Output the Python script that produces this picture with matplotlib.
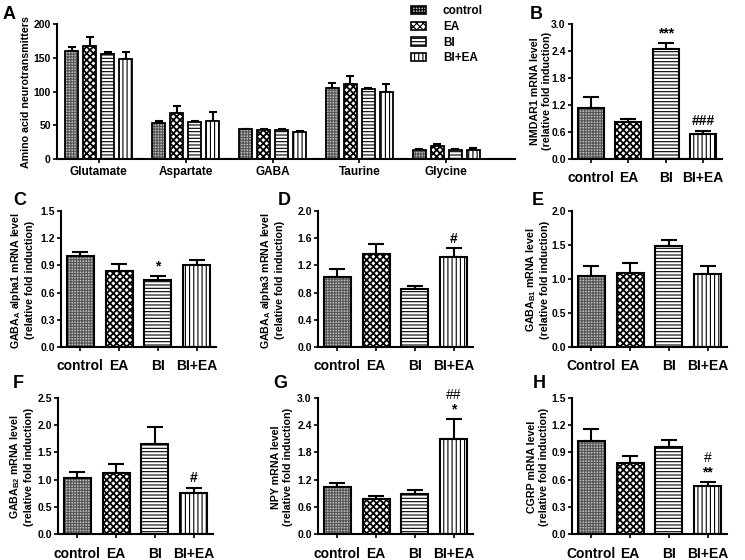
import matplotlib
matplotlib.use("Agg")
import matplotlib.pyplot as plt
from matplotlib.patches import Patch
import numpy as np

plt.rcParams['font.family'] = ['Liberation Sans', 'DejaVu Sans']
plt.rcParams['font.weight'] = 'bold'
plt.rcParams['axes.labelweight'] = 'bold'
plt.rcParams['mathtext.fontset'] = 'custom'
plt.rcParams['mathtext.rm'] = 'Liberation Sans:bold'
plt.rcParams['mathtext.bf'] = 'Liberation Sans:bold'
plt.rcParams['mathtext.it'] = 'Liberation Sans:bold:italic'
plt.rcParams['mathtext.default'] = 'rm'
plt.rcParams['hatch.linewidth'] = 0.8

# ---------------- data ----------------
groups = ['control', 'EA', 'BI', 'BI+EA']
groups_cap = ['Control', 'EA', 'BI', 'BI+EA']

a_cats = ['Glutamate', 'Aspartate', 'GABA', 'Taurine', 'Glycine']
a_control = [160, 53, 44, 105, 13]
a_ea = [167, 68, 43, 111, 19]
a_bi = [155, 55, 43, 104, 14]
a_biea = [148, 57, 40.5, 99, 14]
a_control_top = [166, 57, 45, 112, 15.5]
a_ea_top = [180, 78, 44, 123, 22]
a_bi_top = [158, 57, 44.5, 105, 15]
a_biea_top = [158, 69, 42, 111, 16]

b_vals = [1.14, 0.82, 2.44, 0.55]
b_tops = [1.38, 0.88, 2.58, 0.63]
c_vals = [1.00, 0.84, 0.74, 0.90]
c_tops = [1.05, 0.92, 0.78, 0.96]
d_vals = [1.03, 1.37, 0.86, 1.32]
d_tops = [1.14, 1.51, 0.90, 1.45]
e_vals = [1.05, 1.09, 1.49, 1.07]
e_tops = [1.19, 1.23, 1.58, 1.19]
f_vals = [1.03, 1.12, 1.66, 0.75]
f_tops = [1.14, 1.28, 1.96, 0.85]
g_vals = [1.03, 0.78, 0.89, 2.10]
g_tops = [1.13, 0.84, 0.96, 2.54]
h_vals = [1.03, 0.78, 0.96, 0.53]
h_tops = [1.16, 0.86, 1.04, 0.57]

b_sig = ['', '', '***', '###']
c_sig = ['', '', '*', '']
d_sig = ['', '', '', '#']
f_sig = ['', '', '', '#']
g_sig = ['', '', '', '*']
g_sig2 = ['', '', '', '##']
h_sig = ['', '', '', '**']
h_sig2 = ['', '', '', '#']

# ---------------- styles ----------------
styles = [
    dict(face='#bdbdbd', hatch='++++++', hc='#555555', hlw=0.8),
    dict(face='white', hatch='xxxxx', hc='black', hlw=1.3),
    dict(face='white', hatch='-----', hc='black', hlw=0.8),
    dict(face='white', hatch='||||', hc='black', hlw=0.8),
]

W, H = 745, 560
fig = plt.figure(figsize=(W / 100, H / 100), dpi=100)


def add_ax(l, t, r, b):
    return fig.add_axes([l / W, 1 - b / H, (r - l) / W, (b - t) / H])


def style_ax(ax):
    for s in ['top', 'right']:
        ax.spines[s].set_visible(False)
    for s in ['left', 'bottom']:
        ax.spines[s].set_linewidth(1.5)
    ax.tick_params(axis='y', direction='out', length=3, width=1.2, labelsize=7.5, pad=1.5)
    ax.tick_params(axis='x', direction='out', length=3, width=1.2, labelsize=10, pad=6)


def set_hlw(patches, lw):
    for p in patches:
        if hasattr(p, 'set_hatch_linewidth'):
            p.set_hatch_linewidth(lw)


def draw_bar(ax, x, v, top, st, width, capsize, lw=1.5):
    bc = ax.bar(x, v, width, color=st['face'], edgecolor=st['hc'], hatch=st['hatch'], linewidth=0, zorder=2)
    set_hlw(bc.patches, st['hlw'])
    ax.bar(x, v, width, fill=False, edgecolor='black', linewidth=lw, zorder=3)
    ax.errorbar([x], [v], yerr=[[0], [top - v]], fmt='none', ecolor='black',
                elinewidth=1.5, capsize=capsize, capthick=1.5, zorder=1)


def px2fig(x, y):
    return x / W, 1 - y / H


def panel_letter(letter, x, y):
    fx, fy = px2fig(x, y)
    fig.text(fx, fy, letter, fontsize=13, fontweight='bold', ha='left', va='top')


def ylabel(text, x, y):
    fx, fy = px2fig(x, y)
    fig.text(fx, fy, text, fontsize=7.7, fontweight='bold', rotation=90,
             ha='center', va='center', linespacing=1.3)


# ---------------- panel A ----------------
axA = add_ax(57, 24, 515, 159)
style_ax(axA)
xa = np.arange(len(a_cats))
bw = 0.15
pitch = 0.207
series = [(a_control, a_control_top), (a_ea, a_ea_top), (a_bi, a_bi_top), (a_biea, a_biea_top)]
for k, (vals, tops) in enumerate(series):
    off = (k - 1.5) * pitch
    for i in range(len(a_cats)):
        draw_bar(axA, xa[i] + off, vals[i], tops[i], styles[k], bw, 3, lw=1.3)
axA.set_xlim(-0.48, 4.79)
axA.set_ylim(0, 200)
axA.set_yticks([0, 50, 100, 150, 200])
axA.set_xticks(xa)
axA.set_xticklabels(a_cats)
axA.tick_params(axis='x', labelsize=8.5, pad=2)
ylabel('Amino acid neurotransmitters', 26, 92)
panel_letter('A', 3, 6)

handles = []
for s in styles:
    p = Patch(facecolor=s['face'], edgecolor='black', hatch=s['hatch'], linewidth=1.2)
    handles.append(p)
leg = axA.legend(handles, groups, loc='upper left', bbox_to_anchor=(411 / W, 1 - 5 / H),
                 bbox_transform=fig.transFigure, frameon=False, fontsize=8.5,
                 handlelength=1.3, handleheight=0.7, handletextpad=1.4, labelspacing=0.32,
                 borderpad=0, borderaxespad=0)


# ---------------- small panels ----------------
def small_panel(box, vals, tops, ymax, step, labels, lab_text, lab_pos, letter, letter_pos,
                sig=None, sig2=None, capsize=5.5):
    ax = add_ax(*box)
    style_ax(ax)
    x = np.arange(len(vals))
    for i in range(len(vals)):
        draw_bar(ax, x[i], vals[i], tops[i], styles[i], 0.7, capsize)
    ax.set_xlim(-0.5, 3.5)
    ax.set_ylim(0, ymax)
    ticks = np.arange(0, ymax + step / 2, step)
    ax.set_yticks(ticks)
    ax.set_yticklabels(['%.1f' % t for t in ticks])
    ax.set_xticks(x)
    ax.set_xticklabels(labels)
    off = ymax * 0.02
    if sig is not None:
        for i, s in enumerate(sig):
            if s:
                ax.text(x[i], tops[i] + off, s, ha='center', va='bottom', fontsize=10, fontweight='bold')
    if sig2 is not None:
        for i, s in enumerate(sig2):
            if s:
                ax.text(x[i], tops[i] + off + ymax * 0.105, s, ha='center', va='bottom',
                        fontsize=10, fontweight='normal')
    ylabel(lab_text, *lab_pos)
    panel_letter(letter, *letter_pos)
    return ax


rel = '\n(relative fold induction)'
small_panel((572, 24, 722, 159), b_vals, b_tops, 3.0, 0.6, groups,
            'NMDAR1 mRNA level' + rel, (541, 91), 'B', (530, 6), sig=b_sig)
small_panel((61, 211, 216, 347), c_vals, c_tops, 1.5, 0.3, groups,
            r'GABA$_\mathregular{A}$ alpha1 mRNA level' + rel, (22, 280), 'C', (13, 192), sig=c_sig)
small_panel((318, 211, 473, 347), d_vals, d_tops, 2.0, 0.4, groups,
            r'GABA$_\mathregular{A}$ alpha3 mRNA level' + rel, (272, 280), 'D', (278, 192), sig=d_sig)
small_panel((572, 211, 727, 347), e_vals, e_tops, 2.0, 0.5, groups_cap,
            r'GABA$_\mathregular{B1}$ mRNA level' + rel, (537, 280), 'E', (532, 192))
small_panel((58, 398, 213, 534), f_vals, f_tops, 2.5, 0.5, groups,
            r'GABA$_\mathregular{B2}$ mRNA level' + rel, (21, 467), 'F', (13, 375), sig=f_sig)
small_panel((318, 398, 473, 534), g_vals, g_tops, 3.0, 0.6, groups,
            'NPY mRNA level' + rel, (282, 467), 'G', (273, 375), sig=g_sig, sig2=g_sig2)
small_panel((572, 398, 727, 534), h_vals, h_tops, 1.5, 0.3, groups_cap,
            'CGRP mRNA level' + rel, (538, 467), 'H', (533, 375), sig=h_sig, sig2=h_sig2)

fig.savefig('out.png', dpi=100)
